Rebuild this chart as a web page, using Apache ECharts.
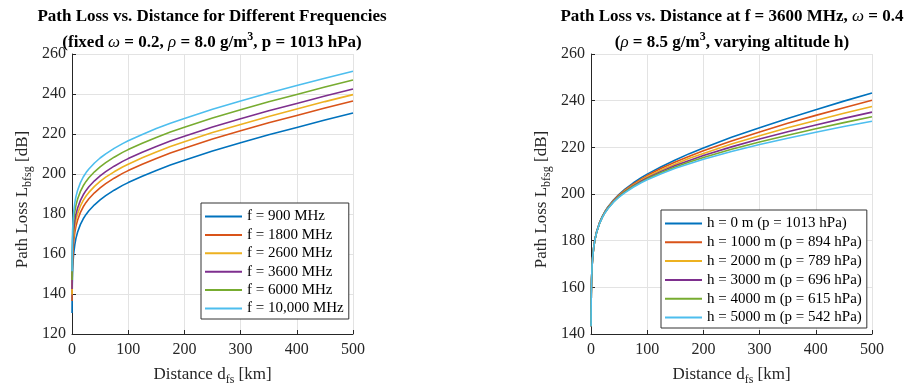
<!DOCTYPE html>
<html><head><meta charset="utf-8">
<script src="https://cdn.jsdelivr.net/npm/echarts@6/dist/echarts.min.js"></script>
<style>html,body{margin:0;padding:0;background:#fff}#c{width:912px;height:389px}</style>
</head><body><div id="c"></div>
<script>
// Distances [km]
const dist = [0.1,0.2,0.5,1,2,3,5,7,10,15,20,25,30,40,50,60,75,90,100,125,150,175,200,250,300,350,400,450,500];
// Left panel: frequencies
const freqLabels = ['f = 900 MHz','f = 1800 MHz','f = 2600 MHz','f = 3600 MHz','f = 6000 MHz','f = 10,000 MHz'];
const f900   = [130.5,136.5,144.5,150.6,156.6,160.2,164.7,167.8,171.0,174.8,177.6,179.8,181.6,184.6,187.1,189.2,191.9,194.3,195.7,198.9,201.8,204.5,206.9,211.5,215.6,219.6,223.3,227.0,230.5];
const f1800  = [136.5,142.5,150.5,156.6,162.6,166.2,170.7,173.8,177.0,180.8,183.6,185.8,187.6,190.6,193.1,195.2,197.9,200.3,201.7,204.9,207.8,210.5,212.9,217.5,221.6,225.6,229.3,233.0,236.5];
const f2600  = [139.7,145.7,153.7,159.8,165.8,169.4,173.9,177.0,180.2,184.0,186.8,189.0,190.8,193.8,196.3,198.4,201.1,203.5,204.9,208.1,211.0,213.7,216.1,220.7,224.8,228.8,232.5,236.2,239.7];
const f3600  = [142.5,148.5,156.5,162.6,168.6,172.2,176.7,179.8,183.0,186.8,189.6,191.8,193.6,196.6,199.1,201.2,203.9,206.3,207.7,210.9,213.8,216.5,218.9,223.5,227.6,231.6,235.3,239.0,242.5];
const f6000  = [147.0,153.0,161.0,167.1,173.1,176.7,181.2,184.3,187.5,191.3,194.1,196.3,198.1,201.1,203.6,205.7,208.4,210.8,212.2,215.4,218.3,221.0,223.4,228.0,232.1,236.1,239.8,243.5,247.0];
const f10000 = [151.4,157.4,165.4,171.5,177.5,181.1,185.6,188.7,191.9,195.7,198.5,200.7,202.5,205.5,208.0,210.1,212.8,215.2,216.6,219.8,222.7,225.4,227.8,232.4,236.5,240.5,244.2,247.9,251.4];
// Right panel: altitudes
const altLabels = ['h = 0 m (p = 1013 hPa)','h = 1000 m (p = 894 hPa)','h = 2000 m (p = 789 hPa)','h = 3000 m (p = 696 hPa)','h = 4000 m (p = 615 hPa)','h = 5000 m (p = 542 hPa)'];
const h0    = [143.3,149.3,157.3,163.4,169.4,173.0,177.5,180.6,183.8,187.6,190.4,192.6,194.4,197.4,199.9,202.0,204.7,207.1,208.5,211.7,214.6,217.3,219.7,224.3,228.4,232.4,236.1,239.8,243.3];
const h1000 = [143.3,149.3,157.3,163.4,169.4,173.0,177.5,180.5,183.8,187.5,190.2,192.4,194.2,197.2,199.6,201.6,204.2,206.5,207.9,211.0,213.7,216.2,218.5,222.7,226.6,230.3,233.7,237.0,240.2];
const h2000 = [143.3,149.3,157.3,163.3,169.4,173.0,177.5,180.5,183.7,187.4,190.1,192.3,194.1,197.0,199.3,201.3,203.8,206.0,207.4,210.3,212.9,215.3,217.4,221.4,225.0,228.4,231.5,234.6,237.5];
const h3000 = [143.3,149.3,157.3,163.3,169.4,173.0,177.5,180.5,183.7,187.4,190.0,192.2,193.9,196.8,199.1,201.0,203.5,205.6,206.9,209.7,212.2,214.4,216.5,220.2,223.6,226.7,229.6,232.4,235.1];
const h4000 = [143.3,149.3,157.3,163.3,169.4,172.9,177.4,180.4,183.6,187.3,190.0,192.1,193.8,196.6,198.9,200.8,203.2,205.2,206.5,209.2,211.6,213.7,215.6,219.2,222.3,225.2,228.0,230.6,233.1];
const h5000 = [143.3,149.3,157.3,163.3,169.4,172.9,177.4,180.4,183.6,187.2,189.9,192.0,193.7,196.5,198.7,200.5,202.9,204.9,206.1,208.7,211.0,213.0,214.9,218.2,221.2,223.9,226.5,228.9,231.2];
const xTicks = [0,100,200,300,400,500];
const yTicksLeft = [120,140,160,180,200,220,240,260];
const yTicksRight = [140,160,180,200,220,240,260];

const colors = ['#0072BD','#D95319','#EDB120','#7E2F8E','#77AC30','#4DBEEE'];
const FF = "'Liberation Serif','Times New Roman',serif";
const axisCol = '#262626';

function nameStyle(){
  return {rich:{
    n:{fontFamily:FF,fontSize:17,color:axisCol},
    e:{fontFamily:FF,fontSize:17,color:axisCol,padding:[0,11,0,0]},
    s:{fontFamily:FF,fontSize:12,color:axisCol,padding:[10,0,0,0]}}};
}
function mkX(idx){
  return {type:'value', gridIndex:idx, min:xTicks[0], max:xTicks[xTicks.length-1], interval:100,
    name:'{n|Distance d}{s|fs}{n| [km]}', nameLocation:'middle', nameGap:30,
    nameTextStyle:nameStyle(),
    axisLine:{show:true,lineStyle:{color:axisCol,width:1}},
    axisTick:{show:true,inside:true,length:4,lineStyle:{color:axisCol}},
    axisLabel:{fontFamily:FF,fontSize:16,color:axisCol,margin:8},
    splitLine:{show:true,lineStyle:{color:'#e3e3e3',width:1}}};
}
function mkY(idx,ticks){
  return {type:'value', gridIndex:idx, min:ticks[0], max:ticks[ticks.length-1], interval:20,
    name:'{n|Path Loss L}{s|bfsg}{e| [dB]}', nameLocation:'middle', nameGap:38,
    nameTextStyle:nameStyle(),
    axisLine:{show:true,lineStyle:{color:axisCol,width:1}},
    axisTick:{show:true,inside:true,length:4,lineStyle:{color:axisCol}},
    axisLabel:{fontFamily:FF,fontSize:16,color:axisCol,margin:6},
    splitLine:{show:true,lineStyle:{color:'#e3e3e3',width:1}}};
}
function mkSeries(name,vals,ci,idx){
  return {type:'line', name:name, xAxisIndex:idx, yAxisIndex:idx, symbol:'none', showSymbol:false,
    smooth:false,
    lineStyle:{color:colors[ci],width:1.6}, itemStyle:{color:colors[ci]},
    data: dist.map((d,i)=>[d, vals[i]])};
}
const leftVals = [f900,f1800,f2600,f3600,f6000,f10000];
const rightVals = [h0,h1000,h2000,h3000,h4000,h5000];
const series = [];
leftVals.forEach((v,i)=>series.push(mkSeries(freqLabels[i],v,i,0)));
rightVals.forEach((v,i)=>series.push(mkSeries(altLabels[i],v,i,1)));

const titleRich = {
  b:{fontFamily:FF,fontSize:17,fontWeight:'bold',color:'#000'},
  i:{fontFamily:FF,fontSize:17,fontStyle:'italic',color:'#000'},
  sup:{fontFamily:FF,fontSize:12,fontWeight:'bold',color:'#000',padding:[0,0,12,0]}
};
const legendCommon = {orient:'vertical', itemWidth:37, itemHeight:2, icon:'rect',
  backgroundColor:'#fff', borderColor:'#333', borderWidth:1, padding:[6,5,3,4],
  textStyle:{fontFamily:FF,fontSize:15,color:'#000'}
};

const chart = echarts.init(document.getElementById('c'), null, {renderer:'canvas'});
chart.setOption({
  animation:false,
  backgroundColor:'#fff',
  grid:[{left:72,right:559,top:54,bottom:55,containLabel:false,outerBoundsMode:'none'},
        {left:591,right:40,top:54,bottom:55,containLabel:false,outerBoundsMode:'none'}],
  xAxis:[mkX(0),mkX(1)],
  yAxis:[mkY(0,yTicksLeft),mkY(1,yTicksRight)],
  legend:[
    Object.assign({}, legendCommon, {left:201, top:203, itemGap:3.4, data:freqLabels.slice()}),
    Object.assign({}, legendCommon, {left:661, top:210, itemGap:3.8, data:altLabels.slice()})
  ],
  graphic:[
    {type:'text', x:212, y:4, style:{text:'{b|Path Loss vs. Distance for Different Frequencies}\n{b|(fixed }{i|ω}{b| = 0.2, }{i|ρ}{b| = 8.0 g/m}{sup|3}{b|, p = 1013 hPa)}', rich:titleRich, align:'center', verticalAlign:'top', lineHeight:26}},
    {type:'text', x:732, y:4, style:{text:'{b|Path Loss vs. Distance at f = 3600 MHz, }{i|ω}{b| = 0.4}\n{b|(}{i|ρ}{b| = 8.5 g/m}{sup|3}{b|, varying altitude h)}', rich:titleRich, align:'center', verticalAlign:'top', lineHeight:26}}
  ],
  series:series
});
</script></body></html>
